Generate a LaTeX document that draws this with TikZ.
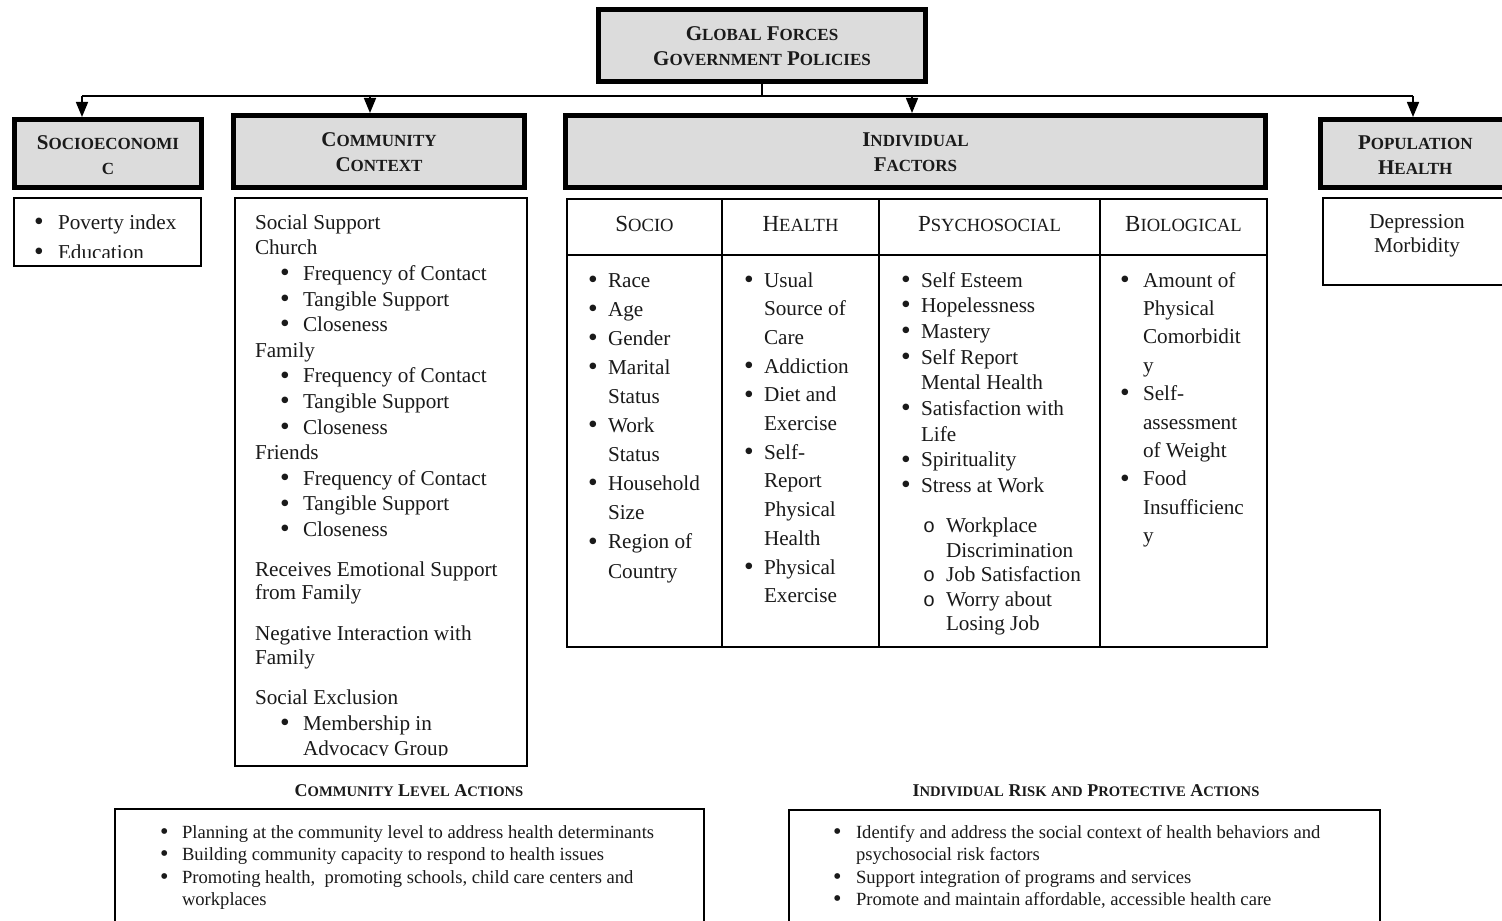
\documentclass[tikz,border=0pt]{standalone}
\usepackage{fontspec}
\setmainfont{Liberation Serif}
\newfontfamily\circfont{Liberation Mono}
\usetikzlibrary{arrows.meta,fit}
\definecolor{hdrfill}{HTML}{DCDCDC}
\definecolor{ink}{HTML}{1A1A1A}
% fake small caps
\newcommand\hb[2]{#1{\fontsize{8.5}{8.5}\selectfont #2}}
\newcommand\tsc[2]{#1{\fontsize{9.3}{9.3}\selectfont #2}}
\newcommand\bsc[2]{#1{\fontsize{7.3}{7.3}\selectfont #2}}
\newcommand\bul{\smash{\raisebox{-0.06em}{\scalebox{1.3}{\textbullet}}}}
\newcommand\bi[2]{\makebox[#1][l]{\bul}#2}
\newcommand\ci[2]{\makebox[#1][l]{{\circfont\fontsize{10}{10}\selectfont o}}#2}
\newcommand\lst[2]{\parbox[t]{#1}{\raggedright #2}}
\newcommand\bodyf[1]{\fontsize{10.6}{#1}\selectfont}
\newcommand\ind{\hspace*{12.5pt}}
\tikzset{
  hdr/.style={draw=black, line width=2.5pt, fill=hdrfill, inner sep=0pt},
  hdrtxt/.style={inner sep=0pt, outer sep=0pt, align=center, text=ink,
              font=\fontsize{10.5}{12.5}\selectfont\bfseries},
  thin/.style={draw=black, line width=1pt, inner sep=0pt},
  grid/.style={draw=black, line width=1pt},
  conn/.style={draw=black, line width=0.8pt},
  arr/.style={draw=black, line width=0.8pt, -{Triangle[length=7.5pt,width=6pt]}},
  txt/.style={inner sep=0pt, outer sep=0pt, text=ink},
  colhead/.style={txt, font=\fontsize{11.5}{11.5}\selectfont},
}
\begin{document}
\begin{tikzpicture}[x=0.5pt,y=-0.5pt]
\useasboundingbox (0,0) rectangle (1502,920);
\clip (0,0) rectangle (1502,920);
\fill[white] (0,0) rectangle (1502,920);

% ---------- header boxes ----------
\node[hdr, fit={(598.5,9.5) (925.5,81.5)}] (gf) {};
\node[hdrtxt] (gft) at ([yshift=-0.5pt]gf.center) {\hb{G}{LOBAL} \hb{F}{ORCES}\\\hb{G}{OVERNMENT} \hb{P}{OLICIES}};
\node[hdr, fit={(14.5,119.5) (201.5,187.5)}] (se) {};
\node[hdrtxt] (set) at ([yshift=-1pt]se.center) {\hb{S}{OCIOECONOMI}\\{\fontsize{8.5}{8.5}\selectfont C}};
\node[hdr, fit={(233.5,115.5) (524.5,187.5)}] (cc) {};
\node[hdrtxt] (cct) at ([yshift=-0.5pt]cc.center) {\hb{C}{OMMUNITY}\\\hb{C}{ONTEXT}};
\node[hdr, fit={(565.5,115.5) (1265.5,187.5)}] (if) {};
\node[hdrtxt] (ift) at ([yshift=-0.6pt]if.center) {\hb{I}{NDIVIDUAL}\\\hb{F}{ACTORS}};
\node[hdr, fit={(1320.5,119.5) (1510,187.5)}] (ph) {};
\node[hdrtxt] (pht) at ([yshift=-1pt]ph.center) {\hb{P}{OPULATION}\\\hb{H}{EALTH}};

% ---------- connectors ----------
\coordinate (bL) at (82,96);
\coordinate (b2) at (370,96);
\coordinate (b3) at (912,96);
\coordinate (bR) at (1413,96);
\draw[conn] (gf.south) -- (gf.south |- bL);
\draw[conn] (bL) -- (bR);
\draw[arr] (bL) -- (bL |- se.north);
\draw[arr] (b2) -- (b2 |- cc.north);
\draw[arr] (b3) -- (b3 |- if.north);
\draw[arr] (bR) -- (bR |- ph.north);

% ---------- content boxes ----------
\node[thin, fit={(14,198) (201,266)}] (sel) {};
\node[thin, fit={(235,198) (527,766)}] (ccl) {};
\node[thin, fit={(567,199) (1267,647)}] (tbl) {};
\node[thin, fit={(1323,198) (1510,285)}] (phl) {};
\node[thin, fit={(115,809) (704,930)}] (cla) {};
\node[thin, fit={(789,810) (1380,930)}] (ira) {};

% table grid
\draw[grid] (567,255) -- (1267,255);
\draw[grid] (722,199) -- (722,647);
\draw[grid] (879,199) -- (879,647);
\draw[grid] (1100,199) -- (1100,647);

% table column heads
\node[colhead] (hsoc) at (644.5,224) {\tsc{S}{OCIO}};
\node[colhead] (hhea) at (800.5,224) {\tsc{H}{EALTH}};
\node[colhead] (hpsy) at (989.5,224) {\tsc{P}{SYCHOSOCIAL}};
\node[colhead] (hbio) at (1183.5,224) {\tsc{B}{IOLOGICAL}};

% ---------- socioeconomic list (clipped) ----------
\begin{scope}
\clip (14,198) rectangle (201,257);
\node[txt, anchor=base west, font=\bodyf{15}] (sl) at (34,229.5)
  {\lst{90pt}{\bi{12pt}{Poverty index}\\\bi{12pt}{Education}}};
\end{scope}

% ---------- community context list ----------
\node[txt, anchor=base west, font=\bodyf{12.8}] (cl1) at (255,229.3)
  {\lst{140pt}{Social Support\\Church\\
   \ind\bi{11.5pt}{Frequency of Contact}\\
   \ind\bi{11.5pt}{Tangible Support}\\
   \ind\bi{11.5pt}{Closeness}\\
   Family\\
   \ind\bi{11.5pt}{Frequency of Contact}\\
   \ind\bi{11.5pt}{Tangible Support}\\
   \ind\bi{11.5pt}{Closeness}\\
   Friends\\
   \ind\bi{11.5pt}{Frequency of Contact}\\
   \ind\bi{11.5pt}{Tangible Support}\\
   \ind\bi{11.5pt}{Closeness}}};
\node[txt, anchor=base west, font=\bodyf{11.65}] (cl2) at (255,576)
  {\lst{140pt}{Receives Emotional Support\\from Family}};
\node[txt, anchor=base west, font=\bodyf{11.65}] (cl3) at (255,640.7)
  {\lst{140pt}{Negative Interaction with\\Family}};
\begin{scope}
\clip (235,680) rectangle (527,755.5);
\node[txt, anchor=base west, font=\bodyf{12.3}] (cl4) at (255,704)
  {\lst{140pt}{Social Exclusion\\[1pt]
   \ind\bi{11.5pt}{Membership in}\\
   \ind\hspace*{11.5pt}Advocacy Group}};
\end{scope}

% ---------- table columns ----------
\node[txt, anchor=base west, font=\bodyf{14.55}] (csoc) at (588,287)
  {\lst{70pt}{\bi{10pt}{Race}\\\bi{10pt}{Age}\\\bi{10pt}{Gender}\\
   \bi{10pt}{Marital}\\\hspace*{10pt}Status\\
   \bi{10pt}{Work}\\\hspace*{10pt}Status\\
   \bi{10pt}{Household}\\\hspace*{10pt}Size\\
   \bi{10pt}{Region of}\\\hspace*{10pt}Country}};
\node[txt, anchor=base west, font=\bodyf{14.35}] (chea) at (744,287)
  {\lst{70pt}{\bi{10pt}{Usual}\\\hspace*{10pt}Source of\\\hspace*{10pt}Care\\
   \bi{10pt}{Addiction}\\
   \bi{10pt}{Diet and}\\\hspace*{10pt}Exercise\\
   \bi{10pt}{Self-}\\\hspace*{10pt}Report\\\hspace*{10pt}Physical\\\hspace*{10pt}Health\\
   \bi{10pt}{Physical}\\\hspace*{10pt}Exercise}};
\node[txt, anchor=base west, font=\bodyf{12.85}] (cpsy) at (901,287)
  {\lst{100pt}{\bi{10pt}{Self Esteem}\\\bi{10pt}{Hopelessness}\\\bi{10pt}{Mastery}\\
   \bi{10pt}{Self Report}\\\hspace*{10pt}Mental Health\\
   \bi{10pt}{Satisfaction with}\\\hspace*{10pt}Life\\
   \bi{10pt}{Spirituality}\\\bi{10pt}{Stress at Work}}};
\node[txt, anchor=base west, font=\bodyf{12.25}] (cpsub) at (923,532.7)
  {\lst{90pt}{\ci{11.5pt}{Workplace}\\\hspace*{11.5pt}Discrimination\\
   \ci{11.5pt}{Job Satisfaction}\\
   \ci{11.5pt}{Worry about}\\\hspace*{11.5pt}Losing Job}};
\node[txt, anchor=base west, font=\bodyf{14.2}] (cbio) at (1120,287)
  {\lst{80pt}{\bi{11.5pt}{Amount of}\\\hspace*{11.5pt}Physical\\\hspace*{11.5pt}Comorbidit\\\hspace*{11.5pt}y\\
   \bi{11.5pt}{Self-}\\\hspace*{11.5pt}assessment\\\hspace*{11.5pt}of Weight\\
   \bi{11.5pt}{Food}\\\hspace*{11.5pt}Insufficienc\\\hspace*{11.5pt}y}};

% ---------- population health ----------
\node[txt, anchor=base, font=\bodyf{12}] (dm) at (1417,228)
  {\parbox[t]{120pt}{\centering Depression\\Morbidity}};

% ---------- bottom action boxes ----------
\node[txt, anchor=base, font=\bfseries\fontsize{9}{9}\selectfont] (clh) at (409,796)
  {\bsc{C}{OMMUNITY} \bsc{L}{EVEL} \bsc{A}{CTIONS}};
\node[txt, anchor=base, font=\bfseries\fontsize{9}{9}\selectfont] (irh) at (1086,796)
  {\bsc{I}{NDIVIDUAL} \bsc{R}{ISK} {\fontsize{7.3}{7.3}\selectfont AND} \bsc{P}{ROTECTIVE} \bsc{A}{CTIONS}};
\node[txt, anchor=base west, font=\fontsize{9.3}{11.3}\selectfont] (cll) at (160,838)
  {\lst{290pt}{\bi{11pt}{Planning at the community level to address health determinants}\\
   \bi{11pt}{Building community capacity to respond to health issues}\\
   \bi{11pt}{Promoting health,\ \ promoting schools, child care centers and}\\
   \hspace*{11pt}workplaces}};
\node[txt, anchor=base west, font=\fontsize{9.3}{11.3}\selectfont] (irl) at (833,838)
  {\lst{290pt}{\bi{11.5pt}{Identify and address the social context of health behaviors and}\\
   \hspace*{11.5pt}psychosocial risk factors\\
   \bi{11.5pt}{Support integration of programs and services}\\
   \bi{11.5pt}{Promote and maintain affordable, accessible health care}}};
\end{tikzpicture}
\end{document}
